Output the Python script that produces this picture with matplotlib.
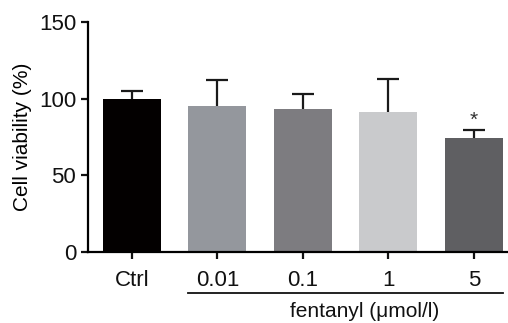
import matplotlib
matplotlib.use("Agg")
import matplotlib.pyplot as plt
import matplotlib.transforms as mtransforms

plt.rcParams['font.family'] = ['Liberation Sans', 'DejaVu Sans']

grupos = ["Ctrl", "0.01", "0.1", "1", "5"]
viabilidad = [100, 95.5, 93, 91.3, 74.3]
error_sup = [5, 16.5, 10, 21.7, 5.3]
colores = ["#030000", "#94979d", "#7d7c80", "#c9cacc", "#5f5f62"]

fig = plt.figure(figsize=(5.08, 3.23), dpi=100)
ax = fig.add_axes([0.173, 0.22, 0.827, 0.712])

x = list(range(len(grupos)))
barras = ax.bar(x, viabilidad, width=0.68, color=colores,
                yerr=[[0] * len(grupos), error_sup], capsize=8,
                error_kw=dict(elinewidth=1.6, capthick=1.6, ecolor="#1a1a1a"))
# solo se deja el tope superior de la barra de error
barras.errorbar.lines[1][0].set_visible(False)

# asterisco sobre el grupo de 5 umol/l
ax.annotate("*", xy=(4, viabilidad[4] + error_sup[4]), xytext=(0, 0),
            textcoords="offset points", ha="center", va="bottom",
            fontsize=15, color="#333333")

ax.set_ylim(0, 150)
ax.set_xlim(-0.515, 4.4)
ax.set_yticks([0, 50, 100, 150])
ax.set_xticks(x)
ax.set_xticklabels(grupos)
ax.set_ylabel("Cell viability (%)", fontsize=15, labelpad=5)

for s in ["top", "right"]:
    ax.spines[s].set_visible(False)
for s in ["left", "bottom"]:
    ax.spines[s].set_linewidth(1.6)
ax.tick_params(axis="both", direction="out", length=5, width=1.6,
               labelsize=16, colors="#111111")
ax.tick_params(axis="x", pad=8)

# linea bajo los grupos de fentanilo
trans = mtransforms.blended_transform_factory(ax.transData, ax.transAxes)
ax.plot([0.66, 4.34], [-0.178, -0.178], color="#111111", lw=1.3,
        transform=trans, clip_on=False)
trans_fig = mtransforms.blended_transform_factory(ax.transData, fig.transFigure)
ax.text(2.72, 0.006, "fentanyl (μmol/l)", transform=trans_fig, ha="center",
        va="bottom", fontsize=15, color="#111111")

fig.savefig("out.png", dpi=100)
